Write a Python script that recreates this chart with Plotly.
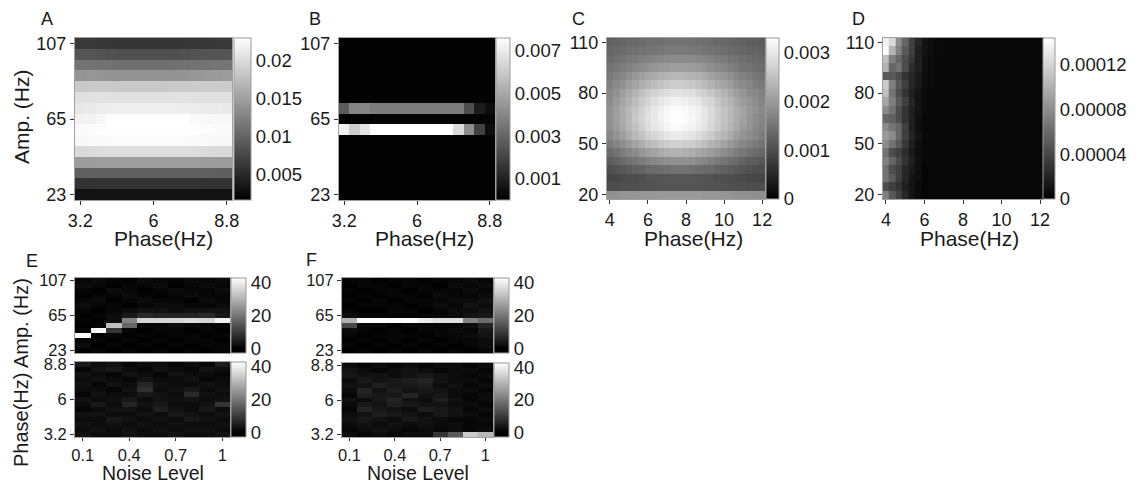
import plotly.graph_objects as go

W, H = 1136, 485

# ---------------- data ----------------
# A / B : phase 3.2..8.8 (0.4 Hz), amplitude 107..23 (6 Hz), rows listed top->bottom
AB_phase = [3.2, 3.6, 4.0, 4.4, 4.8, 5.2, 5.6, 6.0, 6.4, 6.8, 7.2, 7.6, 8.0, 8.4, 8.8]
AB_amp = [107, 101, 95, 89, 83, 77, 71, 65, 59, 53, 47, 41, 35, 29, 23]

# Panel A values (x 1e-3)
A_vals_e3 = [
    [6.3, 6.3, 6.2, 6.1, 6.0, 6.0, 6.0, 6.0, 6.0, 6.0, 6.1, 6.2, 6.2, 6.3, 6.3],
    [8.6, 8.6, 8.5, 8.4, 8.3, 8.3, 8.3, 8.3, 8.3, 8.3, 8.4, 8.5, 8.6, 8.6, 8.7],
    [11.2, 11.2, 11.1, 11.0, 10.9, 10.9, 10.9, 10.9, 10.9, 11.0, 11.0, 11.1, 11.2, 11.3, 11.3],
    [14.0, 14.1, 14.0, 13.9, 13.8, 13.8, 13.8, 13.8, 13.9, 13.9, 14.0, 14.2, 14.4, 14.5, 14.6],
    [18.4, 18.5, 18.5, 18.5, 18.4, 18.4, 18.4, 18.4, 18.4, 18.5, 18.5, 18.6, 18.6, 18.6, 18.6],
    [20.3, 20.4, 20.4, 20.4, 20.4, 20.4, 20.4, 20.4, 20.4, 20.4, 20.4, 20.4, 20.3, 20.3, 20.3],
    [21.0, 21.1, 21.4, 21.5, 21.5, 21.5, 21.5, 21.5, 21.5, 21.5, 21.4, 21.3, 21.2, 21.2, 21.1],
    [21.8, 21.9, 22.2, 22.9, 22.9, 22.9, 22.9, 22.9, 22.9, 22.9, 22.9, 22.4, 22.3, 22.3, 22.2],
    [22.5, 22.6, 22.8, 22.9, 22.9, 22.9, 22.9, 22.9, 22.9, 22.9, 22.9, 22.8, 22.7, 22.6, 22.5],
    [22.3, 22.4, 22.5, 22.6, 22.6, 22.6, 22.6, 22.6, 22.6, 22.6, 22.6, 22.5, 22.4, 22.3, 22.3],
    [19.8, 19.9, 20.0, 20.1, 20.1, 20.1, 20.1, 20.1, 20.1, 20.1, 20.1, 20.0, 19.9, 19.8, 19.8],
    [14.6, 14.7, 14.8, 14.8, 14.8, 14.8, 14.8, 14.8, 14.8, 14.8, 14.8, 14.8, 14.7, 14.6, 14.6],
    [9.5, 9.6, 9.7, 9.7, 9.7, 9.7, 9.7, 9.7, 9.7, 9.7, 9.7, 9.7, 9.6, 9.5, 9.5],
    [5.8, 5.8, 5.9, 5.9, 5.9, 5.9, 5.9, 5.9, 5.9, 5.9, 5.9, 5.9, 5.8, 5.8, 5.8],
    [3.2, 3.2, 3.3, 3.3, 3.3, 3.3, 3.3, 3.3, 3.3, 3.3, 3.3, 3.3, 3.2, 3.2, 3.2],
]

# Panel B values (x 1e-3)
B_vals_e3 = [
    [0.1, 0.1, 0.1, 0.1, 0.1, 0.1, 0.1, 0.1, 0.1, 0.1, 0.1, 0.1, 0.1, 0.1, 0.1],
    [0.1, 0.1, 0.1, 0.1, 0.1, 0.1, 0.1, 0.1, 0.1, 0.1, 0.1, 0.1, 0.1, 0.1, 0.1],
    [0.1, 0.1, 0.1, 0.1, 0.1, 0.1, 0.1, 0.1, 0.1, 0.1, 0.1, 0.1, 0.1, 0.1, 0.1],
    [0.1, 0.1, 0.1, 0.1, 0.1, 0.1, 0.1, 0.1, 0.1, 0.1, 0.1, 0.1, 0.1, 0.1, 0.1],
    [0.1, 0.1, 0.1, 0.1, 0.1, 0.1, 0.1, 0.1, 0.1, 0.1, 0.1, 0.1, 0.1, 0.1, 0.1],
    [0.1, 0.1, 0.1, 0.1, 0.1, 0.1, 0.1, 0.1, 0.1, 0.1, 0.1, 0.1, 0.1, 0.1, 0.1],
    [2.7, 4.0, 4.0, 3.7, 3.7, 3.7, 3.7, 3.7, 3.7, 3.7, 3.7, 3.7, 2.3, 0.8, 0.4],
    [0.1, 0.1, 0.1, 0.1, 0.1, 0.1, 0.1, 0.1, 0.1, 0.1, 0.1, 0.1, 0.1, 0.1, 0.1],
    [7.2, 6.1, 6.8, 7.6, 7.6, 7.6, 7.6, 7.6, 7.6, 7.6, 7.6, 6.5, 4.2, 1.9, 0.4],
    [0.1, 0.1, 0.1, 0.1, 0.1, 0.1, 0.1, 0.1, 0.1, 0.1, 0.1, 0.1, 0.1, 0.1, 0.1],
    [0.1, 0.1, 0.1, 0.1, 0.1, 0.1, 0.1, 0.1, 0.1, 0.1, 0.1, 0.1, 0.1, 0.1, 0.1],
    [0.1, 0.1, 0.1, 0.1, 0.1, 0.1, 0.1, 0.1, 0.1, 0.1, 0.1, 0.1, 0.1, 0.1, 0.1],
    [0.1, 0.1, 0.1, 0.1, 0.1, 0.1, 0.1, 0.1, 0.1, 0.1, 0.1, 0.1, 0.1, 0.1, 0.1],
    [0.1, 0.1, 0.1, 0.1, 0.1, 0.1, 0.1, 0.1, 0.1, 0.1, 0.1, 0.1, 0.1, 0.1, 0.1],
    [0.1, 0.1, 0.1, 0.1, 0.1, 0.1, 0.1, 0.1, 0.1, 0.1, 0.1, 0.1, 0.1, 0.1, 0.1],
]

# C / D : phase 4..12 (1/3 Hz), amplitude 110..20 (5 Hz)
CD_phase = [4.0, 4.33, 4.67, 5.0, 5.33, 5.67, 6.0, 6.33, 6.67, 7.0, 7.33, 7.67, 8.0,
            8.33, 8.67, 9.0, 9.33, 9.67, 10.0, 10.33, 10.67, 11.0, 11.33, 11.67, 12.0]
CD_amp = [110, 105, 100, 95, 90, 85, 80, 75, 70, 65, 60, 55, 50, 45, 40, 35, 30, 25, 20]

# Panel C values (percent of 0.0033)
C_max = 0.0033
C_pct = [
    [38, 39, 40, 41, 41, 42, 43, 44, 44, 45, 45, 45, 45, 44, 44, 43, 42, 41, 41, 40, 39, 38, 37, 37, 36],
    [40, 41, 42, 43, 44, 45, 46, 46, 47, 48, 48, 48, 48, 47, 47, 46, 45, 44, 43, 42, 41, 40, 39, 39, 38],
    [42, 44, 45, 47, 48, 50, 51, 52, 53, 54, 55, 55, 55, 54, 53, 52, 51, 49, 48, 46, 45, 43, 42, 41, 40],
    [45, 47, 49, 51, 53, 55, 57, 59, 60, 61, 62, 62, 62, 61, 60, 58, 56, 54, 52, 50, 48, 46, 45, 43, 42],
    [47, 50, 53, 56, 59, 62, 65, 67, 69, 71, 72, 72, 71, 70, 69, 67, 64, 61, 59, 56, 53, 51, 49, 47, 45],
    [50, 54, 57, 61, 64, 68, 71, 74, 76, 79, 80, 80, 79, 78, 76, 73, 70, 67, 64, 61, 57, 54, 52, 49, 47],
    [53, 57, 62, 66, 70, 75, 79, 82, 85, 87, 89, 89, 88, 87, 84, 81, 78, 74, 70, 66, 62, 59, 55, 53, 50],
    [55, 60, 65, 69, 74, 79, 83, 87, 90, 93, 95, 95, 94, 92, 90, 86, 83, 78, 74, 70, 65, 61, 58, 55, 52],
    [57, 62, 67, 72, 77, 82, 87, 91, 94, 97, 99, 99, 98, 96, 94, 90, 86, 81, 77, 72, 68, 64, 60, 57, 54],
    [57, 62, 67, 72, 78, 83, 88, 91, 95, 98, 100, 100, 99, 97, 94, 90, 86, 81, 76, 72, 67, 63, 59, 55, 52],
    [56, 61, 66, 71, 76, 81, 86, 90, 93, 96, 98, 98, 97, 95, 92, 89, 84, 80, 75, 70, 66, 61, 58, 54, 51],
    [53, 58, 62, 67, 72, 76, 81, 84, 87, 90, 92, 92, 91, 89, 87, 83, 80, 75, 71, 67, 62, 58, 55, 52, 49],
    [48, 52, 56, 60, 64, 68, 72, 75, 78, 80, 82, 82, 81, 80, 78, 75, 71, 68, 64, 60, 56, 53, 50, 48, 45],
    [42, 45, 49, 52, 55, 59, 62, 64, 67, 69, 70, 70, 69, 68, 66, 64, 61, 58, 55, 52, 49, 47, 44, 42, 40],
    [36, 39, 41, 44, 46, 49, 51, 53, 54, 56, 57, 57, 57, 56, 54, 52, 50, 48, 46, 43, 41, 39, 37, 36, 34],
    [31, 33, 34, 36, 38, 39, 41, 42, 43, 44, 45, 45, 45, 44, 43, 42, 41, 39, 38, 36, 35, 33, 32, 31, 30],
    [27, 28, 29, 30, 30, 31, 32, 33, 33, 34, 34, 34, 34, 34, 33, 33, 32, 31, 31, 30, 29, 29, 28, 27, 27],
    [30, 30, 31, 31, 31, 32, 32, 32, 33, 33, 33, 33, 33, 33, 33, 32, 32, 32, 32, 31, 31, 31, 30, 30, 30],
    [57, 57, 58, 58, 58, 59, 59, 59, 60, 60, 60, 60, 60, 60, 60, 59, 59, 59, 58, 58, 57, 57, 57, 56, 56],
]

# Panel D values (percent of 0.000144)
D_max = 0.000144
D_pct = [
    [95, 85, 55, 40, 25, 15, 8, 5, 4, 3, 3, 3, 3, 3, 3, 3, 3, 3, 3, 3, 3, 3, 3, 3, 3],
    [100, 70, 50, 35, 25, 12, 8, 5, 4, 3, 3, 3, 3, 3, 3, 3, 3, 3, 3, 3, 3, 3, 3, 3, 3],
    [75, 50, 40, 30, 22, 12, 6, 4, 3, 3, 3, 3, 3, 3, 3, 3, 3, 3, 3, 3, 3, 3, 3, 3, 3],
    [70, 40, 45, 30, 18, 12, 6, 4, 3, 3, 3, 3, 3, 3, 3, 3, 3, 3, 3, 3, 3, 3, 3, 3, 3],
    [35, 35, 30, 20, 15, 10, 5, 4, 3, 3, 3, 3, 3, 3, 3, 3, 3, 3, 3, 3, 3, 3, 3, 3, 3],
    [80, 50, 35, 25, 15, 10, 5, 4, 3, 3, 3, 3, 3, 3, 3, 3, 3, 3, 3, 3, 3, 3, 3, 3, 3],
    [75, 45, 30, 20, 12, 8, 4, 3, 3, 3, 3, 3, 3, 3, 3, 3, 3, 3, 3, 3, 3, 3, 3, 3, 3],
    [65, 50, 35, 25, 15, 8, 4, 3, 3, 3, 3, 3, 3, 3, 3, 3, 3, 3, 3, 3, 3, 3, 3, 3, 3],
    [55, 45, 30, 20, 12, 8, 4, 3, 3, 3, 3, 3, 3, 3, 3, 3, 3, 3, 3, 3, 3, 3, 3, 3, 3],
    [40, 38, 30, 20, 12, 6, 3, 3, 3, 3, 3, 3, 3, 3, 3, 3, 3, 3, 3, 3, 3, 3, 3, 3, 3],
    [55, 45, 40, 25, 12, 6, 3, 3, 3, 3, 3, 3, 3, 3, 3, 3, 3, 3, 3, 3, 3, 3, 3, 3, 3],
    [60, 55, 40, 25, 15, 8, 3, 3, 3, 3, 3, 3, 3, 3, 3, 3, 3, 3, 3, 3, 3, 3, 3, 3, 3],
    [55, 45, 35, 22, 12, 6, 3, 3, 3, 3, 3, 3, 3, 3, 3, 3, 3, 3, 3, 3, 3, 3, 3, 3, 3],
    [45, 30, 25, 18, 10, 5, 3, 3, 3, 3, 3, 3, 3, 3, 3, 3, 3, 3, 3, 3, 3, 3, 3, 3, 3],
    [50, 40, 30, 20, 12, 6, 3, 3, 3, 3, 3, 3, 3, 3, 3, 3, 3, 3, 3, 3, 3, 3, 3, 3, 3],
    [45, 30, 25, 15, 10, 5, 2, 3, 3, 3, 3, 3, 3, 3, 3, 3, 3, 3, 3, 3, 3, 3, 3, 3, 3],
    [45, 35, 25, 15, 8, 5, 2, 3, 3, 3, 3, 3, 3, 3, 3, 3, 3, 3, 3, 3, 3, 3, 3, 3, 3],
    [30, 25, 20, 12, 8, 4, 2, 3, 3, 3, 3, 3, 3, 3, 3, 3, 3, 3, 3, 3, 3, 3, 3, 3, 3],
    [50, 35, 25, 15, 8, 4, 2, 3, 3, 3, 3, 3, 3, 3, 3, 3, 3, 3, 3, 3, 3, 3, 3, 3, 3],
]

# E / F : noise level 0.1..1.0
noise = [0.1, 0.2, 0.3, 0.4, 0.5, 0.6, 0.7, 0.8, 0.9, 1.0]
EF_amp = AB_amp
EF_phase = [8.8, 8.4, 8.0, 7.6, 7.2, 6.8, 6.4, 6.0, 5.6, 5.2, 4.8, 4.4, 4.0, 3.6, 3.2]

E_amp_counts = [
    [1, 2, 1, 0, 2, 1, 1, 2, 1, 2],
    [2, 1, 0, 1, 1, 2, 0, 1, 2, 1],
    [1, 0, 2, 1, 0, 1, 2, 1, 1, 2],
    [0, 1, 1, 2, 1, 0, 1, 2, 1, 1],
    [1, 2, 0, 1, 2, 1, 1, 0, 2, 1],
    [2, 1, 1, 0, 1, 2, 2, 1, 1, 2],
    [1, 0, 1, 2, 3, 3, 2, 3, 3, 3],
    [0, 1, 2, 4, 7, 6, 6, 6, 7, 4],
    [1, 0, 2, 22, 36, 36, 36, 37, 36, 41],
    [0, 1, 32, 17, 1, 1, 2, 1, 1, 1],
    [1, 42, 9, 1, 0, 1, 1, 0, 1, 0],
    [42, 0, 1, 0, 1, 0, 1, 1, 0, 1],
    [1, 1, 0, 1, 0, 1, 0, 1, 1, 0],
    [2, 0, 1, 0, 1, 0, 1, 0, 1, 1],
    [0, 1, 0, 1, 0, 1, 0, 1, 0, 1],
]
E_phase_counts = [
    [4, 2, 3, 1, 2, 2, 1, 2, 1, 5],
    [1, 3, 4, 2, 1, 3, 2, 1, 3, 2],
    [3, 2, 1, 3, 2, 1, 3, 2, 2, 1],
    [2, 3, 2, 1, 3, 2, 2, 3, 1, 2],
    [3, 1, 3, 2, 6, 3, 2, 2, 3, 2],
    [2, 2, 1, 3, 8, 2, 3, 4, 2, 3],
    [1, 3, 2, 2, 4, 3, 2, 7, 3, 2],
    [3, 2, 3, 4, 2, 3, 3, 3, 2, 3],
    [2, 4, 2, 6, 3, 4, 2, 2, 3, 9],
    [1, 2, 3, 3, 2, 5, 3, 2, 4, 2],
    [3, 3, 2, 2, 3, 2, 4, 3, 2, 3],
    [2, 2, 4, 3, 2, 3, 2, 4, 3, 2],
    [3, 2, 3, 2, 3, 2, 3, 2, 2, 3],
    [2, 3, 2, 3, 2, 3, 2, 3, 3, 2],
    [3, 2, 2, 3, 2, 2, 3, 2, 2, 3],
]
F_amp_counts = [
    [1, 1, 0, 1, 1, 0, 1, 1, 2, 1],
    [0, 1, 1, 0, 1, 1, 0, 2, 1, 2],
    [1, 0, 1, 1, 0, 1, 1, 1, 2, 1],
    [0, 1, 0, 1, 1, 0, 2, 1, 1, 2],
    [1, 0, 1, 0, 1, 1, 1, 2, 2, 3],
    [0, 1, 1, 1, 0, 1, 2, 1, 3, 2],
    [1, 0, 0, 1, 1, 0, 1, 2, 2, 3],
    [2, 1, 1, 1, 1, 1, 1, 2, 3, 4],
    [30, 44, 44, 44, 44, 40, 38, 38, 22, 18],
    [12, 1, 1, 0, 1, 1, 1, 1, 2, 6],
    [2, 1, 0, 1, 0, 1, 1, 2, 1, 4],
    [1, 0, 1, 1, 1, 0, 1, 1, 2, 3],
    [0, 1, 0, 1, 0, 1, 0, 1, 1, 2],
    [1, 0, 1, 0, 1, 0, 1, 0, 1, 2],
    [0, 1, 0, 1, 0, 1, 0, 1, 0, 1],
]
F_phase_counts = [
    [2, 1, 2, 1, 2, 1, 2, 2, 1, 2],
    [3, 2, 1, 2, 3, 2, 1, 2, 2, 1],
    [4, 3, 3, 2, 3, 4, 3, 2, 1, 2],
    [2, 4, 3, 4, 5, 6, 3, 2, 2, 1],
    [3, 3, 5, 4, 4, 5, 2, 3, 1, 2],
    [2, 6, 3, 5, 3, 4, 3, 2, 2, 1],
    [1, 5, 4, 4, 6, 3, 4, 2, 1, 2],
    [3, 2, 4, 6, 3, 2, 5, 3, 1, 2],
    [2, 4, 3, 5, 4, 3, 3, 2, 2, 1],
    [1, 6, 4, 3, 2, 5, 4, 3, 1, 2],
    [2, 3, 5, 4, 3, 2, 4, 3, 2, 1],
    [3, 4, 3, 2, 4, 3, 2, 1, 1, 2],
    [2, 3, 2, 3, 2, 3, 2, 2, 1, 1],
    [1, 2, 3, 2, 1, 2, 1, 2, 1, 2],
    [2, 1, 2, 1, 2, 2, 9, 15, 34, 31],
]

# ---------------- build ----------------
FONT = "Liberation Sans, Arial, sans-serif"
TXT = "#1a1a1a"
GRAY = [[0, "black"], [1, "white"]]
EF_SCALE = [[0, "black"], [0.065, "black"], [1, "white"]]
TICK_SIZE = 18
CB_SIZE = 18.5
TITLE_SIZE = 21

fig = go.Figure()
layout = dict(width=W, height=H, margin=dict(l=0, r=0, t=0, b=0, autoexpand=False),
              paper_bgcolor="white", plot_bgcolor="white",
              font=dict(family=FONT, size=TICK_SIZE, color=TXT), showlegend=False)


def xd(a, b):
    return [a / W, b / W]


def yd(a, b):
    return [1 - b / H, 1 - a / H]


def add_panel(idx, z, x, y, px, py, xr, yr, xt, yt, zmin, zmax, cb_px, cb_th,
              cb_vals, cb_text, xlabels=True, scale=GRAY, xticklen=4, tsize=TICK_SIZE):
    sfx = "" if idx == 1 else str(idx)
    fig.add_trace(go.Heatmap(
        z=z, x=x, y=y, xaxis="x" + sfx, yaxis="y" + sfx,
        colorscale=scale, zmin=zmin, zmax=zmax, hoverinfo="skip",
        colorbar=dict(x=cb_px / W, xanchor="left", xpad=0,
                      y=1 - (py[0] + py[1]) / 2 / H, yanchor="middle", ypad=0,
                      len=(py[1] - py[0]) / H, lenmode="fraction",
                      thickness=cb_th, thicknessmode="pixels",
                      outlinewidth=1, outlinecolor="#9a9a9a",
                      tickvals=cb_vals, ticktext=cb_text, ticks="", ticklen=0,
                      tickfont=dict(family=FONT, size=CB_SIZE, color=TXT))))
    common = dict(showgrid=False, zeroline=False, showline=True, linecolor="#a0a0a0",
                  linewidth=1, mirror=True, tickcolor="#333", tickwidth=1.3,
                  tickfont=dict(family=FONT, size=tsize, color=TXT))
    layout["xaxis" + sfx] = dict(domain=xd(*px), range=xr, anchor="y" + sfx,
                                 tickvals=xt[0], ticktext=xt[1],
                                 ticks="outside" if xlabels else "", ticklen=xticklen,
                                 showticklabels=xlabels, **common)
    layout["yaxis" + sfx] = dict(domain=yd(*py), range=yr, anchor="x" + sfx,
                                 tickvals=yt[0], ticktext=yt[1], ticks="outside",
                                 ticklen=4, **common)


ab_xt = ([3.2, 6, 8.8], ["3.2", "6", "8.8"])
ab_yt = ([23, 65, 107], ["23", "65", "107"])
cd_xt = ([4, 6, 8, 10, 12], ["4", "6", "8", "10", "12"])
cd_yt = ([20, 50, 80, 110], ["20", "50", "80", "110"])
nz_xt = ([0.1, 0.4, 0.7, 1.0], ["0.1", "0.4", "0.7", "1"])
ph_yt = ([3.2, 6, 8.8], ["3.2", "6", "8.8"])

A_z = [[v * 1e-3 for v in r] for r in A_vals_e3]
B_z = [[v * 1e-3 for v in r] for r in B_vals_e3]
C_z = [[v / 100 * C_max for v in r] for r in C_pct]
D_z = [[v / 100 * D_max for v in r] for r in D_pct]

add_panel(1, A_z, AB_phase, AB_amp, (75, 232), (38, 200), [3.0, 9.0], [20, 110], ab_xt, ab_yt,
          0.0016, 0.0229, 234, 17, [0.005, 0.01, 0.015, 0.02], ["0.005", "0.01", "0.015", "0.02"])
add_panel(2, B_z, AB_phase, AB_amp, (339, 495), (38, 200), [3.0, 9.0], [20, 110], ab_xt, ab_yt,
          0, 0.0076, 496, 14, [0.001, 0.003, 0.005, 0.007], ["0.001", "0.003", "0.005", "0.007"])
add_panel(3, C_z, CD_phase, CD_amp, (607, 765), (38, 199), [3.85, 12.15], [17.5, 112.5], cd_xt, cd_yt,
          0, 0.0033, 766, 13, [0, 0.001, 0.002, 0.003], ["0", "0.001", "0.002", "0.003"])
add_panel(4, D_z, CD_phase, CD_amp, (883, 1043), (38, 199), [3.85, 12.15], [17.5, 112.5], cd_xt, cd_yt,
          0, 0.000144, 1043, 12, [0, 0.00004, 0.00008, 0.00012], ["0", "0.00004", "0.00008", "0.00012"])
add_panel(5, E_amp_counts, noise, EF_amp, (75, 230), (278, 353), [0.05, 1.05], [20, 110], nz_xt, ab_yt,
          -3, 43, 231, 15, [0, 20, 40], ["0", "20", "40"], xlabels=False, scale=EF_SCALE, tsize=16.5)
add_panel(6, E_phase_counts, noise, EF_phase, (75, 230), (362, 437), [0.05, 1.05], [3.0, 9.0], nz_xt, ph_yt,
          -3, 43, 231, 15, [0, 20, 40], ["0", "20", "40"], scale=EF_SCALE, xticklen=3, tsize=16.5)
add_panel(7, F_amp_counts, noise, EF_amp, (342, 493), (278, 353), [0.05, 1.05], [20, 110], nz_xt, ab_yt,
          -3, 43, 494, 15, [0, 20, 40], ["0", "20", "40"], xlabels=False, scale=EF_SCALE, tsize=16.5)
add_panel(8, F_phase_counts, noise, EF_phase, (342, 493), (363, 437), [0.05, 1.05], [3.0, 9.0], nz_xt, ph_yt,
          -3, 43, 494, 15, [0, 20, 40], ["0", "20", "40"], scale=EF_SCALE, xticklen=3, tsize=16.5)

ann = []


def text(s, x, y, size, angle=0):
    ann.append(dict(text=s, x=x / W, y=1 - y / H, xref="paper", yref="paper",
                    xanchor="center", yanchor="middle", showarrow=False, textangle=angle,
                    font=dict(family=FONT, size=size, color=TXT)))


for letter, lx, ly in [("A", 47, 19), ("B", 315, 19), ("C", 578, 19), ("D", 858, 19),
                       ("E", 32, 261), ("F", 311, 260)]:
    text(letter, lx, ly, 18)

for cx in [163, 424, 693, 969]:
    text("Phase(Hz)", cx, 238, TITLE_SIZE)
text("Noise Level", 153, 473, 19.5)
text("Noise Level", 418, 473, 19.5)
text("Amp. (Hz)", 21, 117, TITLE_SIZE, -90)
text("Phase(Hz) Amp. (Hz)", 21, 373, 20, -90)

layout["annotations"] = ann
fig.update_layout(**layout)
fig.write_html("out.html", config={"displayModeBar": False},
               post_script="document.body.style.margin='0';document.body.style.padding='0';")
